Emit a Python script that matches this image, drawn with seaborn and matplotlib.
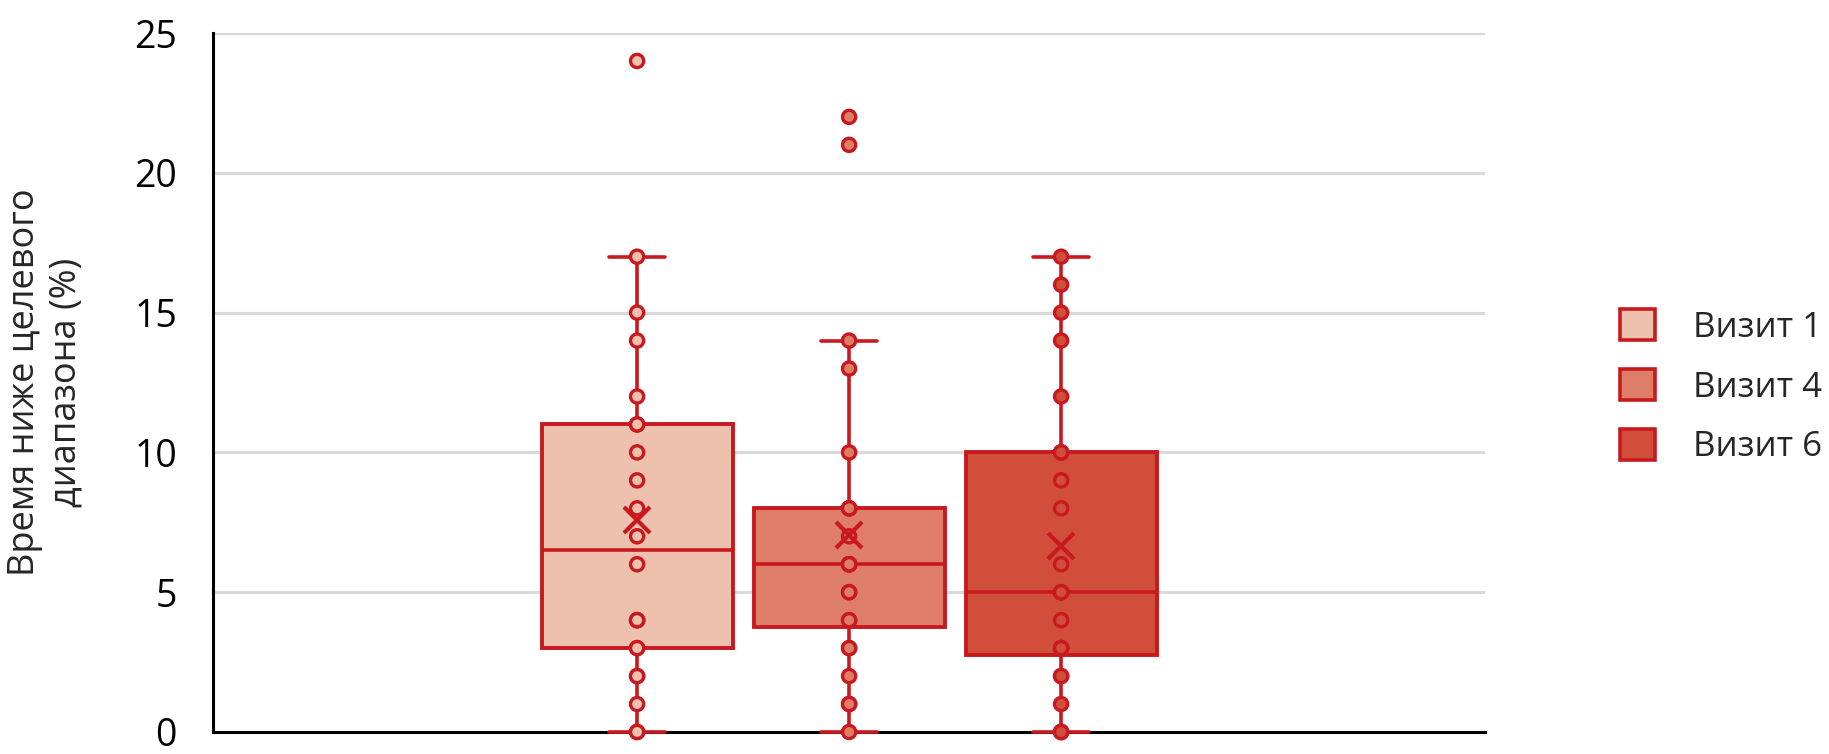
"""
Box plot of time below target range for three visits.
"""
# Import Standard Libraries
import matplotlib
matplotlib.use('Agg')
import matplotlib.pyplot as plt
from matplotlib.patches import Patch
import pandas as pd
import seaborn as sns

# Data
visit_labels = ['Визит 1', 'Визит 4', 'Визит 6']
visit_1 = [0, 0, 1, 2, 2, 3, 3, 4, 4, 4, 6, 7, 8, 9, 10, 11, 11, 12, 14, 15, 17, 24]
visit_4 = [0, 1, 1, 2, 3, 3, 4, 4, 5, 5, 6, 6, 6, 6, 6, 7, 8, 8, 8, 10, 13, 14, 21, 22]
visit_6 = [0, 0, 0, 1, 2, 2, 3, 3, 3, 4, 5, 5, 5, 6, 8, 9, 10, 10, 10, 12, 14, 15, 16, 17]
y_ticks = [0, 5, 10, 15, 20, 25]
y_label = 'Время ниже целевого\nдиапазона (%)'

# Colours
fill_colors = ['#EEC1AE', '#DE7E66', '#D04E3A']
edge_color = '#C8191F'
grid_color = '#D9D9D9'

# Build long-form table
df = pd.DataFrame({
    'group': [''] * (len(visit_1) + len(visit_4) + len(visit_6)),
    'visit': ([visit_labels[0]] * len(visit_1) + [visit_labels[1]] * len(visit_4)
              + [visit_labels[2]] * len(visit_6)),
    'value': visit_1 + visit_4 + visit_6,
})

sns.set_theme(style='white')
plt.rcParams['font.family'] = ['Open Sans', 'DejaVu Sans']

fig = plt.figure(figsize=(18.29, 7.54), dpi=100)
ax = fig.add_axes([0.1165, 0.0292, 0.6955, 0.9270])

palette = dict(zip(visit_labels, fill_colors))
line_props = dict(color=edge_color, linewidth=2.6, clip_on=False)

# Boxes with mean markers
sns.boxplot(data=df, x='group', y='value', hue='visit', palette=palette,
            hue_order=visit_labels, width=0.8, gap=0.1, whis=1.5,
            saturation=1, showfliers=False, showmeans=True, capwidths=0.07,
            boxprops=dict(edgecolor=edge_color, linewidth=2.8),
            medianprops=line_props, whiskerprops=line_props,
            capprops=dict(color=edge_color, linewidth=2.6, clip_on=False, zorder=4),
            meanprops=dict(marker='x', markeredgecolor=edge_color,
                           markersize=19, markeredgewidth=3.0, zorder=10),
            legend=False, ax=ax)

# All points
sns.stripplot(data=df, x='group', y='value', hue='visit', palette=palette,
              hue_order=visit_labels, dodge=True, jitter=False, size=9.5,
              edgecolor=edge_color, linewidth=2.4, legend=False,
              clip_on=False, zorder=5, ax=ax)

# Axes settings
ax.set_xlim(-0.8, 0.8)
ax.set_ylim(0, 25)
ax.set_yticks(y_ticks)
ax.set_xticks([])
ax.set_xlabel('')
ax.set_ylabel(y_label, fontsize=26, labelpad=36, linespacing=1.2)
ax.tick_params(axis='y', length=0, pad=26, labelsize=27, labelcolor='black')
ax.yaxis.grid(True, color=grid_color, linewidth=2.2)
ax.set_axisbelow(True)
for side in ['top', 'right']:
    ax.spines[side].set_visible(False)
for side in ['left', 'bottom']:
    ax.spines[side].set_color('black')
    ax.spines[side].set_linewidth(2.2)
    ax.spines[side].set_zorder(1)

# Legend
handles = [Patch(facecolor=c, edgecolor=edge_color, linewidth=2.6, label=l)
           for c, l in zip(fill_colors, visit_labels)]
fig.legend(handles=handles, loc='center left', bbox_to_anchor=(0.886, 0.487),
           frameon=False, fontsize=25, handlelength=1.0, handleheight=1.0,
           handletextpad=1.1, labelspacing=0.7, borderpad=0, borderaxespad=0)

fig.savefig('out.png', dpi=100)
